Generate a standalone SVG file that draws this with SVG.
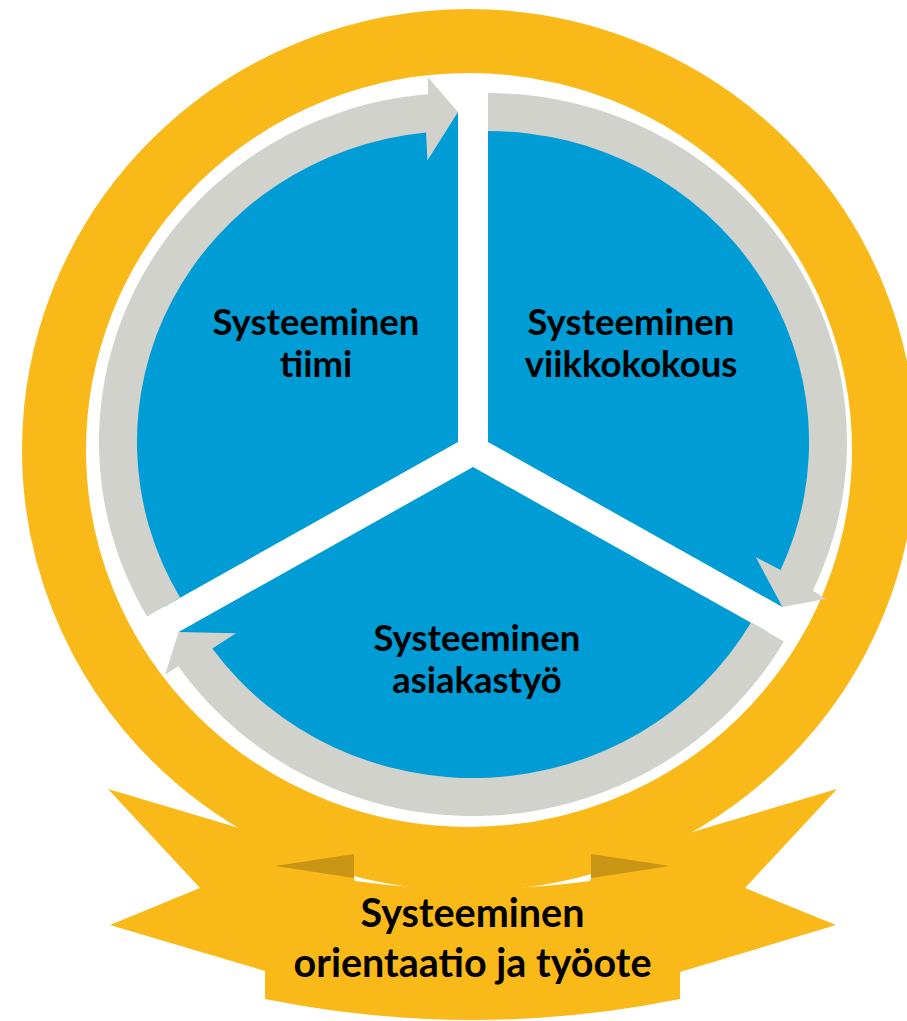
<svg xmlns="http://www.w3.org/2000/svg" width="907" height="1021" viewBox="0 0 907 1021">
<style>
.blue{fill:#009CD5}
.gray{fill:#D2D2CD}
.yel{fill:#F9B918}
.fold{fill:#C89614}
.lbl{font-family:Lato,"Liberation Sans",sans-serif;font-weight:bold;fill:#000;text-anchor:middle}
.in{font-size:36.5px}
.ban{font-size:39.5px}
</style>
<rect width="907" height="1021" fill="#FFFFFF"/>
<g id="ring">
<ellipse cx="469" cy="450" rx="415" ry="409" fill="none" stroke="#F9B918" stroke-width="64"/>
</g>
<g id="banner">
<path class="yel" d="M108,789 L300,846 L354,854 L354,878 L355,881 Q470,897 590,881 L591,878 L591,854 L645,846 L837,789 L745,888 L836,925 L680,972 L680,999 Q472.5,1041 265,999 L265,971 L110,925 L200,888 Z"/>
<path class="fold" d="M275,866 L354,854 L354,878 Z"/>
<path class="fold" d="M670,866 L591,854 L591,878 Z"/>
<text class="lbl ban" x="472.5" y="927">Systeeminen</text>
<text class="lbl ban" x="472.5" y="977">orientaatio ja työote</text>
</g>
<g id="node-tiimi">
<path class="blue" d="M458,442 L163.6,607 A340,330 0 0 1 458,112 Z"/>
<text class="lbl in" x="316" y="335">Systeeminen</text>
<text class="lbl in" x="316" y="377">tiimi</text>
</g>
<g id="node-viikkokokous">
<path class="blue" d="M488,442 L488,112 A340,330 0 0 1 782.4,607 Z"/>
<text class="lbl in" x="631" y="335">Systeeminen</text>
<text class="lbl in" x="631" y="377">viikkokokous</text>
</g>
<g id="node-asiakastyo">
<path class="blue" d="M473,467 L767.4,632 A340,330 0 0 1 178.6,632 Z"/>
<text class="lbl in" x="477" y="651">Systeeminen</text>
<text class="lbl in" x="477" y="693">asiakastyö</text>
</g>
<g id="connectors">
<path class="gray" d="M147.1,616.5 A359,349 0 0 1 428,94.2 L428,77.2 L458,112 L427.4,160.5 L426.1,132.5 A321,311 0 0 0 180,597.5 Z"/>
<path class="gray" d="M488,93 A359,349 0 0 1 812.8,590.6 L825.8,599 L782.4,607 L755.7,557.1 L780.6,570 A321,311 0 0 0 488,131 Z"/>
<path class="gray" d="M783.9,641.5 A359,349 0 0 1 178.2,666.2 L165.1,674.8 L178.6,632 L236,633.3 L212.3,648.5 A321,311 0 0 0 751,622.5 Z"/>
</g>
</svg>
